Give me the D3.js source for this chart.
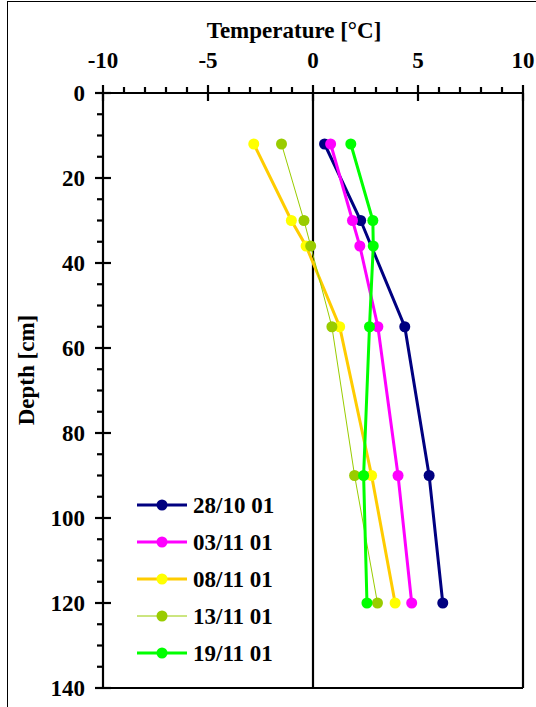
<!DOCTYPE html>
<html>
<head>
<meta charset="utf-8">
<script src="https://cdn.jsdelivr.net/npm/d3@7"></script>
<style>
  html, body { margin: 0; padding: 0; background: #fff; }
  svg { display: block; }
</style>
</head>
<body>
<svg id="chart" width="536" height="707"></svg>
<script>
// ---- data ----
const depths = [12, 30, 36, 55, 90, 120];
const seriesNames = ["28/10 01", "03/11 01", "08/11 01", "13/11 01", "19/11 01"];
const s1 = [0.55, 2.27, null, 4.37, 5.53, 6.18];   // 28/10 01
const s2 = [0.84, 1.88, 2.23, 3.09, 4.05, 4.70];   // 03/11 01
const s3 = [-2.82, -1.03, -0.33, 1.27, 2.79, 3.91]; // 08/11 01
const s4 = [-1.50, -0.43, -0.11, 0.90, 1.98, 3.07]; // 13/11 01
const s5 = [1.80, 2.85, 2.87, 2.69, 2.41, 2.57];   // 19/11 01
const tempTicks = [-10, -5, 0, 5, 10];
const depthTicks = [0, 20, 40, 60, 80, 100, 120, 140];

const lineColors = ["#000080", "#FF00FF", "#FFCC00", "#99CC00", "#00FF00"];
const markColors = ["#000080", "#FF00FF", "#FFFF00", "#99CC00", "#00FF00"];
const lineWidths = [3, 3, 3, 1, 3];

const FONT = "'Liberation Serif', 'Times New Roman', Times, 'DejaVu Serif', serif";

const allSeries = [s1, s2, s3, s4, s5].map((vals, i) => ({
  name: seriesNames[i],
  points: vals.map((v, j) => ({t: v, d: depths[j]})).filter(p => p.t !== null),
  line: lineColors[i], mark: markColors[i], lw: lineWidths[i]
}));

const svg = d3.select("#chart");
const x = d3.scaleLinear().domain([-10, 10]).range([103, 523]);
const y = d3.scaleLinear().domain([0, 140]).range([93, 688]);

// outer border
svg.append("rect").attr("x", 7.5).attr("y", 1.5).attr("width", 700).attr("height", 800)
  .attr("fill", "none").attr("stroke", "#000").attr("stroke-width", 1);

const ax = svg.append("g").attr("stroke", "#000").attr("stroke-width", 2.2);

// minor ticks top
d3.range(-10, 11, 1).filter(v => v % 5 !== 0).forEach(v => {
  ax.append("line").attr("x1", x(v)).attr("x2", x(v)).attr("y1", y(0) - 6).attr("y2", y(0));
});
// major ticks top (crossing)
tempTicks.forEach(v => {
  ax.append("line").attr("x1", x(v)).attr("x2", x(v)).attr("y1", y(0) - 8).attr("y2", y(0) + 8);
});
// minor ticks left
d3.range(0, 141, 5).filter(v => v % 20 !== 0).forEach(v => {
  ax.append("line").attr("x1", x(-10) - 6).attr("x2", x(-10)).attr("y1", y(v)).attr("y2", y(v));
});
// major ticks left (crossing)
depthTicks.forEach(v => {
  ax.append("line").attr("x1", x(-10) - 8).attr("x2", x(-10) + 8).attr("y1", y(v)).attr("y2", y(v));
});
// frame lines
ax.append("line").attr("x1", x(-10)).attr("x2", x(10)).attr("y1", y(0)).attr("y2", y(0));
ax.append("line").attr("x1", x(-10)).attr("x2", x(-10)).attr("y1", y(0)).attr("y2", y(140));
ax.append("line").attr("x1", x(-10)).attr("x2", x(10)).attr("y1", y(140)).attr("y2", y(140));
ax.append("line").attr("x1", x(10)).attr("x2", x(10)).attr("y1", y(0)).attr("y2", y(140));
ax.append("line").attr("x1", x(0)).attr("x2", x(0)).attr("y1", y(0)).attr("y2", y(140));

const txt = sel => sel.attr("font-family", FONT).attr("font-weight", "bold").attr("fill", "#000");

// tick labels
svg.append("g").selectAll("text").data(tempTicks).join("text").call(txt)
  .attr("x", d => x(d)).attr("y", 68).attr("text-anchor", "middle")
  .attr("font-size", 23).text(d => d);
svg.append("g").selectAll("text").data(depthTicks).join("text").call(txt)
  .attr("x", 85).attr("y", d => y(d)).attr("dy", "0.34em").attr("text-anchor", "end")
  .attr("font-size", 23).text(d => d);

// axis titles
svg.append("text").call(txt).attr("x", 294).attr("y", 38).attr("text-anchor", "middle")
  .attr("font-size", 23).text("Temperature [°C]");
svg.append("text").call(txt).attr("transform", "translate(34,370) rotate(-90)")
  .attr("text-anchor", "middle").attr("font-size", 23).text("Depth [cm]");

// series
const line = d3.line().x(p => x(p.t)).y(p => y(p.d));
const sg = svg.append("g");
allSeries.forEach(s => {
  sg.append("path").attr("d", line(s.points)).attr("fill", "none")
    .attr("stroke", s.line).attr("stroke-width", s.lw);
});
allSeries.forEach(s => {
  sg.append("g").selectAll("circle").data(s.points).join("circle")
    .attr("cx", p => x(p.t)).attr("cy", p => y(p.d)).attr("r", 5.5).attr("fill", s.mark);
});

// legend
const lg = svg.append("g");
allSeries.forEach((s, i) => {
  const ly = 505 + i * 37;
  lg.append("line").attr("x1", 137).attr("x2", 187).attr("y1", ly).attr("y2", ly)
    .attr("stroke", s.line).attr("stroke-width", s.lw);
  lg.append("circle").attr("cx", 162).attr("cy", ly).attr("r", 5.5).attr("fill", s.mark);
  lg.append("text").call(txt).attr("x", 193).attr("y", ly).attr("dy", "0.34em")
    .attr("font-size", 23).text(s.name);
});
</script>
</body>
</html>
